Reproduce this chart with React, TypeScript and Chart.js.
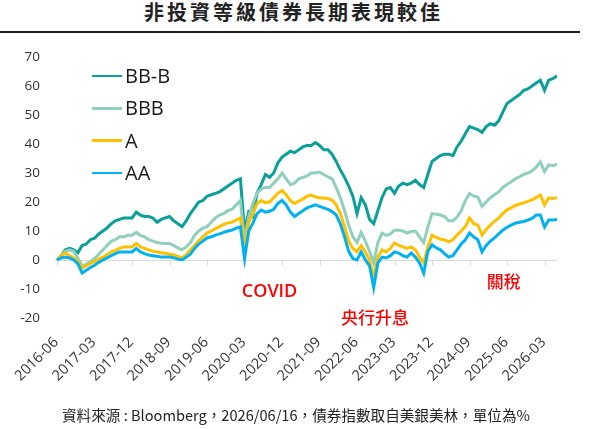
import React, { useRef, useEffect } from "react";
import { Chart, registerables } from "chart.js";

Chart.register(...registerables);

// monthly index values, 2016-06 (m=0) .. 2026-06 (m=120)
const SERIES_NAMES = ["BB-B", "BBB", "A", "AA"];
const COLORS = ["#0a9f98", "#8fcfbc", "#ffc000", "#00b0f0"];

// one label every 9 months, starting at m=0
const TICK_LABELS = [
  "2016-06", "2017-03", "2017-12", "2018-09", "2019-06", "2020-03", "2020-12",
  "2021-09", "2022-06", "2023-03", "2023-12", "2024-09", "2025-06", "2026-03",
];
const TICK_STEP = 9;

const BB_B = [
  0, 1.5, 3.5, 4, 3.5, 2.5, 5, 5.5, 7, 7.5,
  9, 10, 11, 12.5, 13.5, 14, 14.5, 14.5, 14.5, 16.5,
  15.5, 15, 15, 14.5, 13, 14, 14.5, 15, 13.5, 12.5,
  11.5, 13.5, 16, 18, 20, 20.5, 22, 22.5, 23, 23.5,
  24.5, 25.5, 26.5, 27.5, 28, 10, 16.5, 15, 23, 26,
  29.5, 28.5, 30, 33.5, 35.5, 36.5, 37.5, 37, 38, 39,
  39.5, 39.5, 40.5, 39.5, 38, 38, 36.5, 34, 31, 28.5,
  25.5, 22, 16, 21.5, 19, 14, 12.5, 17, 21.5, 24.5,
  25, 23, 25.5, 26.5, 26, 26.5, 27.5, 26, 25, 29.5,
  34, 35, 36, 36.5, 36.5, 36, 39, 41, 43.5, 46,
  45.5, 45, 44, 46, 47, 46.5, 48, 51, 54, 55,
  56, 57, 58.5, 59, 60, 61, 62, 58.5, 62, 62.5,
  63.5,
];

const BBB = [
  0, 1.5, 3, 3.5, 3, 0.5, -2, -1.5, -0.5, 0.5,
  2, 3.5, 5, 6.5, 7, 8, 8, 8.5, 8.5, 9.5,
  8.5, 8, 7, 6.5, 6, 5.8, 5.7, 5.7, 5, 4.2,
  3.5, 4.5, 6, 8.5, 10, 11, 11.5, 13, 14.5, 15.5,
  16, 17, 17.5, 19, 20.5, 7, 15, 19.5, 23, 24.5,
  25, 25, 26.5, 28, 30, 28, 26, 26.5, 28, 28.5,
  29, 30, 30, 30.3, 29.5, 28.7, 28, 25, 21.5, 17,
  12, 8, 6, 9.5, 6.5, 3, -1, 6, 9.3, 8.5,
  9, 10.3, 10.3, 10, 9.3, 9.8, 10, 8, 6, 11.4,
  16, 15.8, 15.5, 15, 13.5, 13.5, 14.8, 17, 20.5, 23,
  22, 21.7, 18.5, 20, 21.5, 22.5, 23.5, 25, 26, 27,
  28, 28.7, 29.5, 30, 30.7, 32, 33.8, 30.5, 32.8, 32.5,
  33,
];

const A = [
  0, 1.5, 2.5, 1.5, 0.7, -0.5, -2.8, -2, -1.2, -0.5,
  0.3, 1, 1.8, 2.8, 3.3, 4, 4.5, 4.5, 4.5, 5.7,
  4.5, 4, 3.5, 3, 2.8, 2.5, 2.3, 2, 1.7, 1.2,
  0.7, 1.8, 3.5, 5, 6.5, 8, 9.3, 10, 10.8, 11.5,
  12.3, 12.8, 13, 13.8, 14.5, 4, 13, 16, 19.5, 20.5,
  19.8, 20, 21.5, 23, 24, 22.5, 20.5, 19.5, 20.3, 21,
  22, 22.4, 21.8, 21.4, 21.4, 21.2, 20.7, 19, 16, 11.5,
  6.5, 4, 2.8, 5, 2.8, 0, -6, 1, 3.5, 2.8,
  4, 5.9, 5, 4.5, 4, 4.5, 3.5, 1, -1, 4.5,
  8.5, 7.8, 7.2, 6.9, 6.3, 7, 8.6, 10, 11.5, 14.5,
  12.5, 12, 8.6, 10.5, 12, 13.3, 14.5, 16, 17.3, 18,
  18.8, 19.3, 19.7, 20.2, 20.7, 21.5, 22.4, 19, 21.4, 21.2,
  21.5,
];

const AA = [
  0, 0.7, 1, 0.7, 0, -1.3, -4.5, -3.5, -2.6, -1.8,
  -0.8, 0, 0.7, 1.5, 2.2, 2.8, 2.8, 2.8, 2.8, 4,
  2.8, 2.2, 1.7, 1.5, 1.3, 1, 1, 1, 0.8, 0.3,
  0, 1, 2, 4, 5.5, 6.5, 7.6, 8, 8.6, 9,
  9.5, 10, 10.3, 11, 11.4, 0.5, 10, 12.7, 16, 17.2,
  16.5, 16.8, 17.5, 19.5, 20.5, 19, 16.5, 15, 16, 17,
  18, 18.5, 19, 18.5, 18, 17.5, 16.7, 15.5, 12.5, 8,
  3, 0.5, 0, 2.8, 0, -2, -9.5, -1, 1, 0.7,
  1.5, 2.8, 2.4, 1.5, 1, 2.4, 1, -1, -4.5, 3,
  5.2, 4.2, 3.5, 2.2, 1, 1.5, 3.5, 5.5, 7, 9.3,
  8, 7, 2.8, 5, 6.5, 7.6, 9, 10.3, 11.3, 12,
  12.7, 13, 13.3, 13.8, 14.3, 15.5, 15.5, 11.4, 13.8, 13.8,
  14,
];

const SERIES = [BB_B, BBB, A, AA];

const NOTES = [
  { text: "COVID", m: 51, v: -11, font: "600 18px 'Open Sans'" },
  { text: "央行升息", m: 76.3, v: -19.7, font: "500 17px 'Noto Sans CJK TC'" },
  { text: "關稅", m: 107.2, v: -7.6, font: "500 17px 'Noto Sans CJK TC'" },
];

const extras = {
  id: "extras",
  beforeDatasetsDraw(chart: any) {
    const { ctx, chartArea, scales } = chart;
    const y0 = Math.round(scales.y.getPixelForValue(0)) + 0.5;
    ctx.save();
    ctx.strokeStyle = "#d9d9d9";
    ctx.lineWidth = 1;
    ctx.beginPath();
    ctx.moveTo(chartArea.left, y0);
    ctx.lineTo(chartArea.right, y0);
    TICK_LABELS.forEach((_, i) => {
      const x = Math.round(scales.x.getPixelForValue(i * TICK_STEP)) + 0.5;
      ctx.moveTo(x, y0);
      ctx.lineTo(x, y0 + 5);
    });
    ctx.stroke();

    // rotated date labels under the plot
    ctx.fillStyle = "#333";
    ctx.font = "14.5px 'Open Sans'";
    ctx.textAlign = "right";
    ctx.textBaseline = "alphabetic";
    TICK_LABELS.forEach((label, i) => {
      const x = scales.x.getPixelForValue(i * TICK_STEP) + 2;
      ctx.save();
      ctx.translate(x, chartArea.bottom + 25);
      ctx.rotate(-Math.PI / 4);
      ctx.fillText(label, 0, 0);
      ctx.restore();
    });
    ctx.restore();
  },
  afterDatasetsDraw(chart: any) {
    const { ctx, scales } = chart;
    ctx.save();
    ctx.fillStyle = "#ff0000";
    ctx.textAlign = "center";
    ctx.textBaseline = "middle";
    NOTES.forEach((n) => {
      ctx.font = n.font;
      ctx.fillText(n.text, scales.x.getPixelForValue(n.m), scales.y.getPixelForValue(n.v));
    });
    ctx.restore();
  },
};

const App: React.FC = () => {
  const chartRef = useRef<HTMLCanvasElement>(null);
  const chartInstanceRef = useRef<Chart | null>(null);

  useEffect(() => {
    const ctx = chartRef.current?.getContext("2d");
    if (!ctx) return;

    if (chartInstanceRef.current) {
      chartInstanceRef.current.destroy();
    }

    chartInstanceRef.current = new Chart(ctx, {
      type: "line",
      data: {
        datasets: SERIES.map((values, i) => ({
          label: SERIES_NAMES[i],
          data: values.map((v, m) => ({ x: m, y: v })),
          borderColor: COLORS[i],
          backgroundColor: COLORS[i],
          borderWidth: 3,
          pointRadius: 0,
          tension: 0,
          order: SERIES.length - i,
        })),
      },
      options: {
        animation: false,
        responsive: false,
        layout: { padding: { left: 8, right: 40, top: 57, bottom: 111 } },
        scales: {
          x: { type: "linear", min: -0.5, max: 120, display: false },
          y: {
            min: -20,
            max: 70,
            grid: { display: false, drawTicks: false },
            border: { display: false },
            ticks: {
              stepSize: 10,
              padding: 15,
              color: "#333",
              font: { family: "'Open Sans'", size: 13.5 },
            },
            afterFit: (s: any) => {
              s.width = 47;
            },
          },
        },
        plugins: {
          legend: { display: false },
          tooltip: { enabled: false },
        },
      },
      plugins: [extras],
    });

    return () => {
      if (chartInstanceRef.current) {
        chartInstanceRef.current.destroy();
        chartInstanceRef.current = null;
      }
    };
  }, []);

  return (
    <div
      style={{
        position: "fixed",
        left: 0,
        top: 0,
        width: 597,
        height: 429,
        background: "#fff",
        overflow: "hidden",
      }}
    >
      <div
        style={{
          position: "absolute",
          left: 0,
          top: -2,
          width: 587,
          textAlign: "center",
          font: "bold 20px 'Noto Sans CJK TC'",
          letterSpacing: 3,
          lineHeight: "27px",
          color: "#222",
        }}
      >
        非投資等級債券長期表現較佳
      </div>
      <div style={{ position: "absolute", left: 0, top: 31, width: 580, height: 2, background: "#222" }} />
      <canvas ref={chartRef} width={597} height={429} style={{ position: "absolute", left: 0, top: 0 }} />
      {SERIES_NAMES.map((name, i) => (
        <div
          key={name}
          style={{
            position: "absolute",
            left: 92,
            top: 62 + i * 32.3,
            height: 28,
            display: "flex",
            alignItems: "center",
          }}
        >
          <span style={{ display: "inline-block", width: 30, height: 2.5, background: COLORS[i], marginRight: 3 }} />
          <span style={{ font: "20px 'Open Sans'", color: "#1a1a1a", lineHeight: "28px" }}>{name}</span>
        </div>
      ))}
      <div
        style={{
          position: "absolute",
          left: 62,
          top: 405,
          font: "14.6px 'Noto Sans CJK TC'",
          lineHeight: "20px",
          color: "#222",
          whiteSpace: "nowrap",
        }}
      >
        資料來源 : Bloomberg，2026/06/16，債券指數取自美銀美林，單位為%
      </div>
    </div>
  );
};

export default App;
